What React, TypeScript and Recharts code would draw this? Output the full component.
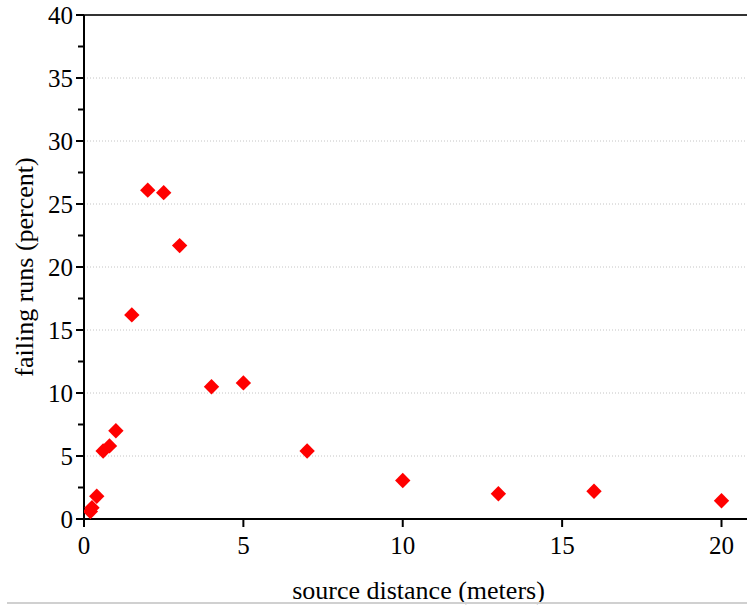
import React from 'react';
import { ScatterChart, Scatter, XAxis, YAxis, ReferenceLine } from 'recharts';

const distances = [0.2, 0.25, 0.4, 0.6, 0.8, 1, 1.5, 2, 2.5, 3, 4, 5, 7, 10, 13, 16, 20];
const failingPercent = [0.6, 0.9, 1.8, 5.4, 5.8, 7.0, 16.2, 26.1, 25.9, 21.7, 10.5, 10.8, 5.4, 3.05, 2.0, 2.2, 1.45];
const xTicks = [0, 5, 10, 15, 20];
const yTicks = [0, 2.5, 5, 7.5, 10, 12.5, 15, 17.5, 20, 22.5, 25, 27.5, 30, 32.5, 35, 37.5, 40];
const gridValues = [5, 10, 15, 20, 25, 30, 35];

const data = distances.map((d, i) => ({ x: d, y: failingPercent[i] }));

const FONT = "'Liberation Serif', 'Times New Roman', serif";

const Diamond = (props: any) => {
  const { cx, cy } = props;
  const r = 7.7;
  return <path d={`M${cx},${cy - r}L${cx + r},${cy}L${cx},${cy + r}L${cx - r},${cy}Z`} fill="#ff0000" />;
};

const YTick = (props: any) => {
  const { x, y, payload } = props;
  const v = payload.value;
  const major = Math.abs(v % 5) < 1e-9;
  return (
    <g>
      <line x1={x - (major ? 8 : 6)} x2={x} y1={y} y2={y} stroke="#000" strokeWidth={2} />
      {major && (
        <text x={x - 11} y={y} dy="0.355em" textAnchor="end" fontSize={25} fill="#000" style={{ fontFamily: FONT }}>
          {v}
        </text>
      )}
    </g>
  );
};

const XTick = (props: any) => {
  const { x, y, payload } = props;
  return (
    <text x={x} y={y} dy="0.71em" textAnchor="middle" fontSize={25} fill="#000" style={{ fontFamily: FONT }}>
      {payload.value}
    </text>
  );
};

export default function App() {
  return (
    <div style={{ position: 'absolute', left: 0, top: 0, width: 747, height: 605, overflow: 'hidden', background: '#fff', fontFamily: FONT }}>
      <ScatterChart width={747} height={605} margin={{ top: 15, right: 0, bottom: 0, left: 0 }} style={{ fontFamily: FONT }}>
        {gridValues.map((v) => (
          <ReferenceLine key={v} y={v} stroke="#c4c4c4" strokeDasharray="1 2" strokeWidth={1} />
        ))}
        <ReferenceLine y={40} stroke="#333" strokeWidth={2} />
        <XAxis
          type="number"
          dataKey="x"
          domain={[0, 20.8]}
          ticks={xTicks}
          allowDataOverflow
          interval={0}
          height={86}
          tickSize={8}
          tickMargin={9}
          axisLine={{ stroke: '#000', strokeWidth: 2 }}
          tickLine={{ stroke: '#000', strokeWidth: 2 }}
          tick={<XTick />}
          label={{ value: 'source distance (meters)', position: 'insideBottom', offset: 6, dx: 3, fontSize: 26, fill: '#000', style: { fontFamily: FONT } }}
        />
        <YAxis
          type="number"
          dataKey="y"
          domain={[0, 40]}
          ticks={yTicks}
          interval={0}
          width={84}
          tickSize={0}
          tickMargin={0}
          tickLine={false}
          axisLine={{ stroke: '#000', strokeWidth: 2 }}
          tick={<YTick />}
          label={{ value: 'failing runs (percent)', angle: -90, position: 'insideLeft', offset: 24, fontSize: 26, fill: '#000', style: { textAnchor: 'middle', fontFamily: FONT } }}
        />
        <Scatter data={data} shape={<Diamond />} isAnimationActive={false} />
      </ScatterChart>
      <div style={{ position: 'absolute', left: 7, top: 602, width: 740, height: 2, background: '#d0d0d0' }} />
    </div>
  );
}
